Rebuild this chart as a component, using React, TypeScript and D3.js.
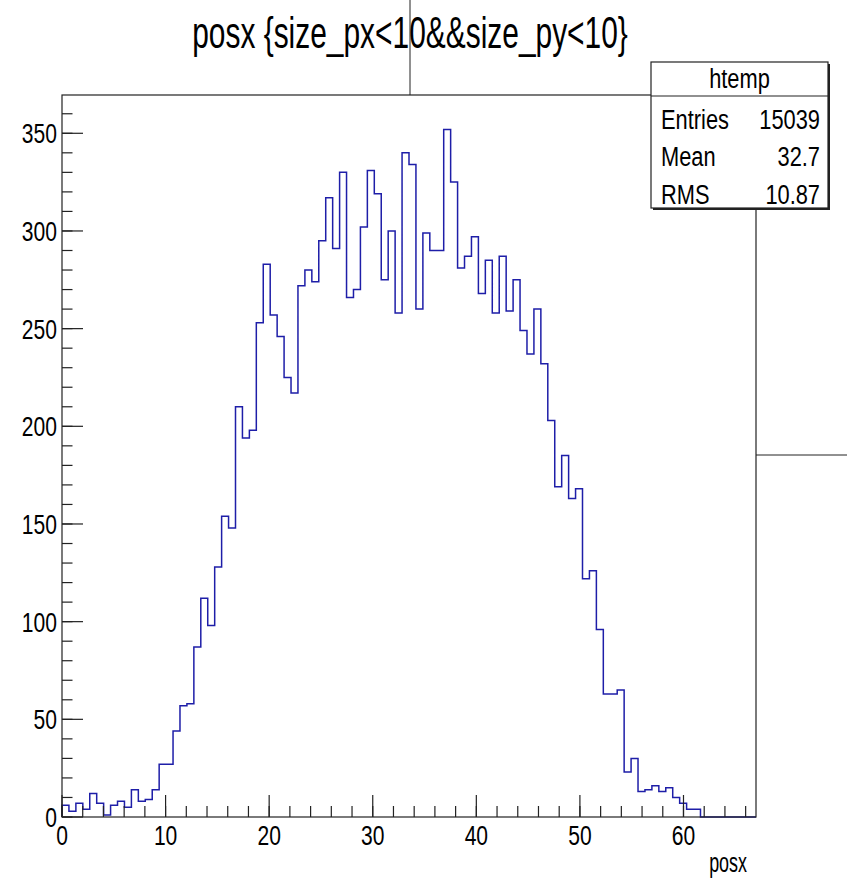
import React from "react";
import * as d3 from "d3";

// ---- data ----
const histName = "htemp";
const titleText = "posx {size_px<10&&size_py<10}";
const xAxisTitle = "posx";
const xMin = 0;
const xMax = 67;
const nBins = 100;
const binCounts = [
  6, 3, 7, 4, 12, 7, 1, 6, 8, 5,
  14, 8, 9, 14, 27, 27, 44, 57, 58, 87,
  112, 98, 128, 154, 148, 210, 194, 198, 253, 283,
  257, 246, 225, 217, 272, 280, 274, 295, 317, 291,
  330, 266, 270, 302, 331, 319, 275, 300, 258, 340,
  334, 260, 299, 290, 290, 352, 325, 281, 287, 297,
  268, 285, 258, 287, 259, 275, 249, 237, 260, 232,
  203, 169, 185, 163, 168, 122, 126, 96, 63, 63,
  65, 23, 30, 13, 14, 16, 13, 15, 10, 7,
  4, 4, 0, 0, 0, 0, 0, 0, 0, 0,
];
const yMax = 369.6;
const xMajorTicks = [0, 10, 20, 30, 40, 50, 60];
const xMinorTicks = d3.range(0, 67, 2);
const yMajorTicks = [0, 50, 100, 150, 200, 250, 300, 350];
const yMinorTicks = d3.range(0, 370, 10);
const statLabels = ["Entries", "Mean", "RMS"];
const statValues = ["15039", "32.7", "10.87"];

// ---- layout ----
const W = 847;
const H = 881;
const frame = { left: 62, right: 756, top: 95, bottom: 817 };
const FONT = "'Liberation Sans', Arial, Helvetica, sans-serif";
const SX = 0.78;
const lineColor = "#1e1ea8";

function SText(props: {
  x: number;
  y: number;
  anchor?: string;
  size: number;
  sx?: number;
  children: React.ReactNode;
}) {
  const { x, y, anchor = "start", size, sx = SX, children } = props;
  return (
    <text
      transform={`translate(${x},${y}) scale(${sx},1)`}
      textAnchor={anchor}
      fontSize={size}
      fontFamily={FONT}
      fill="#000"
    >
      {children}
    </text>
  );
}

export default function App() {
  const x = d3.scaleLinear().domain([xMin, xMax]).range([frame.left, frame.right]);
  const y = d3.scaleLinear().domain([0, yMax]).range([frame.bottom, frame.top]);
  const bw = (xMax - xMin) / nBins;

  const pts: [number, number][] = [[xMin, 0]];
  binCounts.forEach((c, i) => pts.push([xMin + i * bw, c]));
  pts.push([xMax, binCounts[nBins - 1]]);
  pts.push([xMax, 0]);
  const line = d3
    .line<[number, number]>()
    .x((d) => x(d[0]))
    .y((d) => y(d[1]))
    .curve(d3.curveStepAfter);

  const box = { x0: 651, x1: 828, y0: 62, y1: 208, head: 96 };
  const rowH = (box.y1 - box.head) / 3;

  return (
    <svg width={W} height={H} style={{ position: "absolute", left: 0, top: 0, background: "#fff" }}>
      <rect x={0} y={0} width={W} height={H} fill="#fff" />
      {/* stray pad lines */}
      <line x1={410} x2={410} y1={0} y2={frame.top} stroke="#222" strokeWidth={1} />
      <line x1={frame.right} x2={W} y1={455} y2={455} stroke="#222" strokeWidth={1} />

      {/* histogram */}
      <path d={line(pts) || ""} fill="none" stroke={lineColor} strokeWidth={1.5} />

      {/* frame */}
      <rect
        x={frame.left}
        y={frame.top}
        width={frame.right - frame.left}
        height={frame.bottom - frame.top}
        fill="none"
        stroke="#222"
        strokeWidth={1.2}
      />

      {/* y ticks */}
      {yMinorTicks.map((t) => (
        <line key={"ym" + t} x1={frame.left} x2={frame.left + 10.5} y1={y(t)} y2={y(t)} stroke="#222" strokeWidth={1.2} />
      ))}
      {yMajorTicks.map((t) => (
        <line key={"yM" + t} x1={frame.left} x2={frame.left + 21} y1={y(t)} y2={y(t)} stroke="#222" strokeWidth={1.2} />
      ))}
      {yMajorTicks.map((t) => (
        <SText key={"yl" + t} x={57} y={y(t) + 10} anchor="end" size={27}>
          {String(t)}
        </SText>
      ))}

      {/* x ticks */}
      {xMinorTicks.map((t) => (
        <line key={"xm" + t} x1={x(t)} x2={x(t)} y1={frame.bottom} y2={frame.bottom - 11} stroke="#222" strokeWidth={1.2} />
      ))}
      {xMajorTicks.map((t) => (
        <line key={"xM" + t} x1={x(t)} x2={x(t)} y1={frame.bottom} y2={frame.bottom - 22} stroke="#222" strokeWidth={1.2} />
      ))}
      {xMajorTicks.map((t) => (
        <SText key={"xl" + t} x={x(t)} y={844.5} anchor="middle" size={27}>
          {String(t)}
        </SText>
      ))}
      <SText x={747} y={872} anchor="end" size={28} sx={0.64}>
        {xAxisTitle}
      </SText>

      {/* title */}
      <SText x={410} y={48} anchor="middle" size={44} sx={0.68}>
        {titleText}
      </SText>

      {/* stats box */}
      <rect x={box.x0 + 2} y={box.y0 + 2} width={box.x1 - box.x0} height={box.y1 - box.y0} fill="#222" />
      <rect
        x={box.x0}
        y={box.y0}
        width={box.x1 - box.x0}
        height={box.y1 - box.y0}
        fill="#fff"
        stroke="#222"
        strokeWidth={1.2}
      />
      <line x1={box.x0} x2={box.x1} y1={box.head} y2={box.head} stroke="#222" strokeWidth={1.2} />
      <SText x={(box.x0 + box.x1) / 2} y={88} anchor="middle" size={28}>
        {histName}
      </SText>
      {statLabels.map((s, i) => (
        <SText key={"sl" + s} x={661} y={box.head + rowH * i + 33} size={28}>
          {s}
        </SText>
      ))}
      {statValues.map((s, i) => (
        <SText key={"sv" + i} x={820} y={box.head + rowH * i + 33} anchor="end" size={28}>
          {s}
        </SText>
      ))}
    </svg>
  );
}
